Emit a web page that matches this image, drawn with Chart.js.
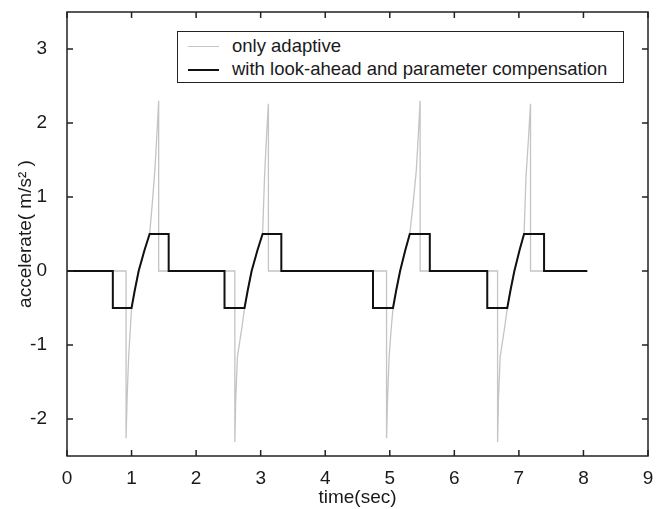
<!DOCTYPE html>
<html>
<head>
<meta charset="utf-8">
<script src="https://cdn.jsdelivr.net/npm/chart.js@4"></script>
<style>
  body { margin: 0; background: #fff; }
  #wrap { position: relative; width: 664px; height: 509px; }
  #legend {
    position: absolute; left: 177px; top: 31px; width: 445px; height: 50px;
    border: 1.5px solid #222; background: #fff;
    font-family: "Liberation Sans", Arial, sans-serif; font-size: 18.5px; color: #1a1a1a;
  }
  .item { position: absolute; left: 0; height: 22px; line-height: 22px; white-space: nowrap; }
  .item .swatch { position: absolute; left: 10px; top: 11px; width: 31px; }
  .item span { position: absolute; left: 54px; top: 0; }
</style>
</head>
<body>
<div id="wrap">
  <canvas id="chart" width="664" height="509"></canvas>
  <div id="legend">
    <div class="item" style="top:3px"><div class="swatch" style="border-top:1.3px solid #c4c4c4"></div><span>only adaptive</span></div>
    <div class="item" style="top:26px"><div class="swatch" style="border-top:2px solid #111"></div><span>with look-ahead and parameter compensation</span></div>
  </div>
</div>
<script>
// Axis ticks
const xTicks = [0, 1, 2, 3, 4, 5, 6, 7, 8, 9];
const yTicks = [-2, -1, 0, 1, 2, 3];

// "only adaptive" acceleration (time, value)
const adaptT = [0, 0.915, 0.915, 0.93, 0.955, 0.98, 1.0, 1.05, 1.11, 1.2, 1.28, 1.32, 1.36, 1.39, 1.42, 1.42,
  2.6, 2.6, 2.613, 2.64, 2.71, 2.75, 2.80, 2.86, 2.95, 3.03, 3.06, 3.09, 3.12, 3.12,
  4.95, 4.95, 4.965, 4.99, 5.02, 5.05, 5.10, 5.16, 5.24, 5.31, 5.36, 5.41, 5.44, 5.47, 5.47,
  6.67, 6.67, 6.683, 6.71, 6.78, 6.82, 6.87, 6.93, 7.01, 7.08, 7.11, 7.15, 7.18, 7.18, 8.06];
const adaptA = [0, 0, -2.26, -1.75, -1.16, -0.8, -0.5, -0.26, 0, 0.28, 0.5, 0.9, 1.35, 1.8, 2.3, 0,
  0, -2.31, -1.75, -1.16, -0.76, -0.5, -0.26, 0, 0.28, 0.5, 1.27, 1.81, 2.26, 0,
  0, -2.26, -1.75, -1.16, -0.8, -0.5, -0.26, 0, 0.28, 0.5, 0.9, 1.35, 1.8, 2.3, 0,
  0, -2.31, -1.75, -1.16, -0.76, -0.5, -0.26, 0, 0.28, 0.5, 1.27, 1.81, 2.26, 0, 0];

// "with look-ahead and parameter compensation" acceleration
const compT = [0, 0.71, 0.71, 1.0, 1.05, 1.11, 1.2, 1.28, 1.575, 1.575,
  2.44, 2.44, 2.75, 2.80, 2.86, 2.95, 3.03, 3.32, 3.32,
  4.74, 4.74, 5.05, 5.10, 5.16, 5.24, 5.31, 5.62, 5.62,
  6.51, 6.51, 6.82, 6.87, 6.93, 7.01, 7.08, 7.39, 7.39, 8.06];
const compA = [0, 0, -0.5, -0.5, -0.26, 0, 0.28, 0.5, 0.5, 0,
  0, -0.5, -0.5, -0.26, 0, 0.28, 0.5, 0.5, 0,
  0, -0.5, -0.5, -0.26, 0, 0.28, 0.5, 0.5, 0,
  0, -0.5, -0.5, -0.26, 0, 0.28, 0.5, 0.5, 0, 0];

const toPoints = (ts, vs) => ts.map((t, i) => ({ x: t, y: vs[i] }));

// MATLAB style box with inward ticks on all sides
const framePlugin = {
  id: 'frame',
  afterDraw(chart) {
    const { ctx, chartArea: a, scales } = chart;
    const len = 6;
    ctx.save();
    ctx.strokeStyle = '#222';
    ctx.lineWidth = 1.5;
    ctx.strokeRect(a.left, a.top, a.right - a.left, a.bottom - a.top);
    ctx.beginPath();
    xTicks.forEach(v => {
      const px = scales.x.getPixelForValue(v);
      ctx.moveTo(px, a.bottom); ctx.lineTo(px, a.bottom - len);
      ctx.moveTo(px, a.top); ctx.lineTo(px, a.top + len);
    });
    yTicks.forEach(v => {
      const py = scales.y.getPixelForValue(v);
      ctx.moveTo(a.left, py); ctx.lineTo(a.left + len, py);
      ctx.moveTo(a.right, py); ctx.lineTo(a.right - len, py);
    });
    ctx.stroke();
    ctx.restore();
  }
};

const font = { family: '"Liberation Sans", Arial, sans-serif', size: 19 };
const titleFont = { family: '"Liberation Sans", Arial, sans-serif', size: 19 };

new Chart(document.getElementById('chart'), {
  type: 'line',
  data: {
    datasets: [
      {
        label: 'only adaptive',
        data: toPoints(adaptT, adaptA),
        borderColor: '#c4c4c4',
        borderWidth: 1.3,
        pointRadius: 0,
        tension: 0,
        order: 1
      },
      {
        label: 'with look-ahead and parameter compensation',
        data: toPoints(compT, compA),
        borderColor: '#111',
        borderWidth: 2,
        pointRadius: 0,
        tension: 0,
        order: 0
      }
    ]
  },
  options: {
    responsive: false,
    animation: false,
    layout: { padding: { top: 12, right: 16, left: 0, bottom: 0 } },
    plugins: { legend: { display: false }, tooltip: { enabled: false } },
    scales: {
      x: {
        type: 'linear',
        min: 0,
        max: 9,
        afterBuildTicks: s => { s.ticks = xTicks.map(v => ({ value: v })); },
        afterFit: s => { s.height = 53; s.paddingLeft = 0; s.paddingRight = 0; },
        grid: { display: false },
        border: { display: false },
        ticks: { font: font, color: '#1a1a1a', padding: 3, maxRotation: 0 },
        title: { display: true, text: 'time(sec)', font: titleFont, color: '#1a1a1a', padding: { top: 0, bottom: 0 } }
      },
      y: {
        min: -2.5,
        max: 3.5,
        afterBuildTicks: s => { s.ticks = yTicks.map(v => ({ value: v })); },
        afterFit: s => { s.width = 67; s.paddingTop = 0; s.paddingBottom = 0; },
        grid: { display: false },
        border: { display: false },
        ticks: { font: font, color: '#1a1a1a', padding: 12 },
        title: { display: true, text: 'accelerate( m/s² )', font: titleFont, color: '#1a1a1a', padding: { top: 14, bottom: 0 } }
      }
    }
  },
  plugins: [framePlugin]
});
</script>
</body>
</html>
